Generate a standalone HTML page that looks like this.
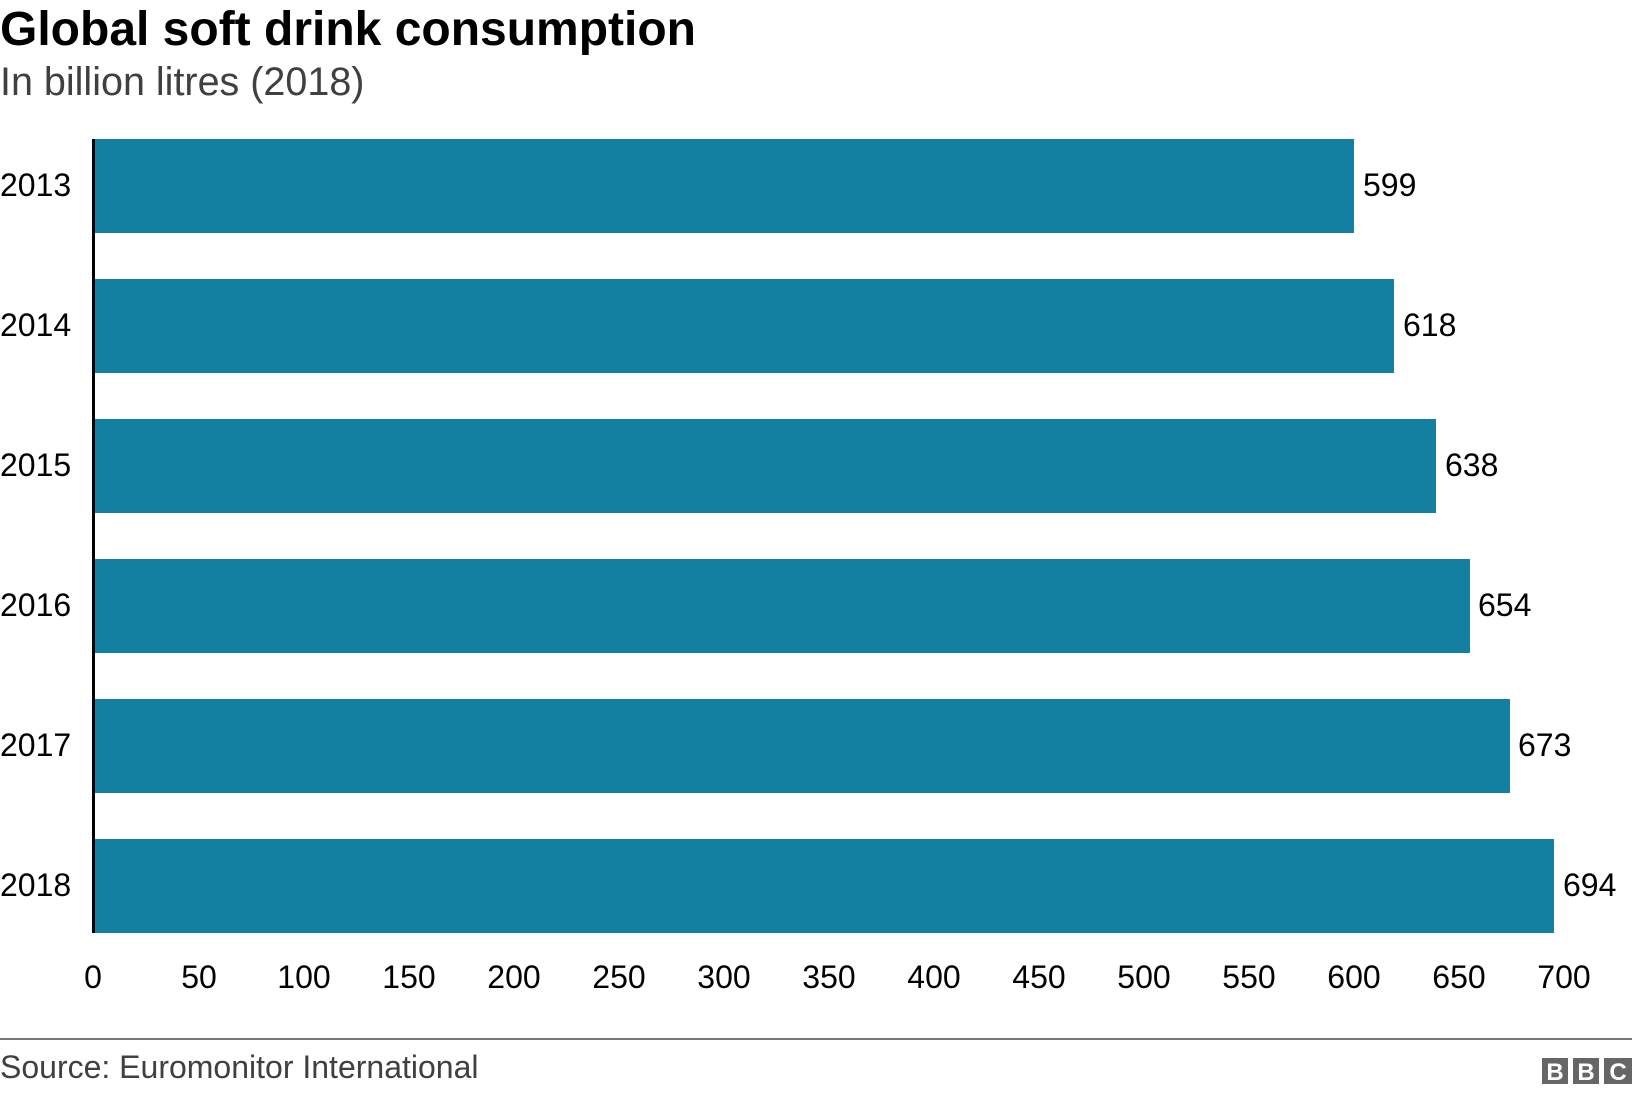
<!DOCTYPE html>
<html><head><meta charset="utf-8"><style>
body{margin:0;width:1632px;height:1094px;background:#fff;overflow:hidden;font-family:"Liberation Sans",Arial,sans-serif}
</style></head><body>
<svg width="1632" height="1094" xmlns="http://www.w3.org/2000/svg" font-family="Liberation Sans, Arial, sans-serif">
<text x="0" y="45" font-size="48" font-weight="bold" fill="#000">Global soft drink consumption</text>
<text x="0" y="95" font-size="39.5" fill="#404040">In billion litres (2018)</text>
<g fill="#1380a1">
<rect x="94" y="139" width="1260" height="94"/>
<rect x="94" y="279" width="1300" height="94"/>
<rect x="94" y="419" width="1342" height="94"/>
<rect x="94" y="559" width="1376" height="94"/>
<rect x="94" y="699" width="1416" height="94"/>
<rect x="94" y="839" width="1460" height="94"/>
</g>
<rect x="92" y="139" width="3" height="794" fill="#000"/>
<g font-size="32" fill="#000">
<text x="0" y="196">2013</text><text x="0" y="336">2014</text><text x="0" y="476">2015</text>
<text x="0" y="616">2016</text><text x="0" y="756">2017</text><text x="0" y="896">2018</text>
<text x="1363" y="196">599</text><text x="1403" y="336">618</text><text x="1445" y="476">638</text>
<text x="1478" y="616">654</text><text x="1518" y="756">673</text><text x="1563" y="896">694</text>
</g>
<g font-size="32" fill="#000" text-anchor="middle">
<text x="93" y="988">0</text><text x="199" y="988">50</text><text x="304" y="988">100</text>
<text x="409" y="988">150</text><text x="514" y="988">200</text><text x="619" y="988">250</text>
<text x="724" y="988">300</text><text x="829" y="988">350</text><text x="934" y="988">400</text>
<text x="1039" y="988">450</text><text x="1144" y="988">500</text><text x="1249" y="988">550</text>
<text x="1354" y="988">600</text><text x="1459" y="988">650</text><text x="1564" y="988">700</text>
</g>
<rect x="0" y="1038" width="1632" height="2" fill="#777"/>
<text x="0" y="1078" font-size="32" fill="#404040">Source: Euromonitor International</text>
<g fill="#666"><rect x="1542" y="1058" width="26" height="26"/><rect x="1573" y="1058" width="26" height="26"/><rect x="1604" y="1058" width="28" height="26"/></g>
<g fill="#fff" font-size="24" font-weight="bold" text-anchor="middle">
<text x="1555" y="1080">B</text><text x="1586" y="1080">B</text><text x="1618" y="1080">C</text></g>
</svg>
</body></html>
